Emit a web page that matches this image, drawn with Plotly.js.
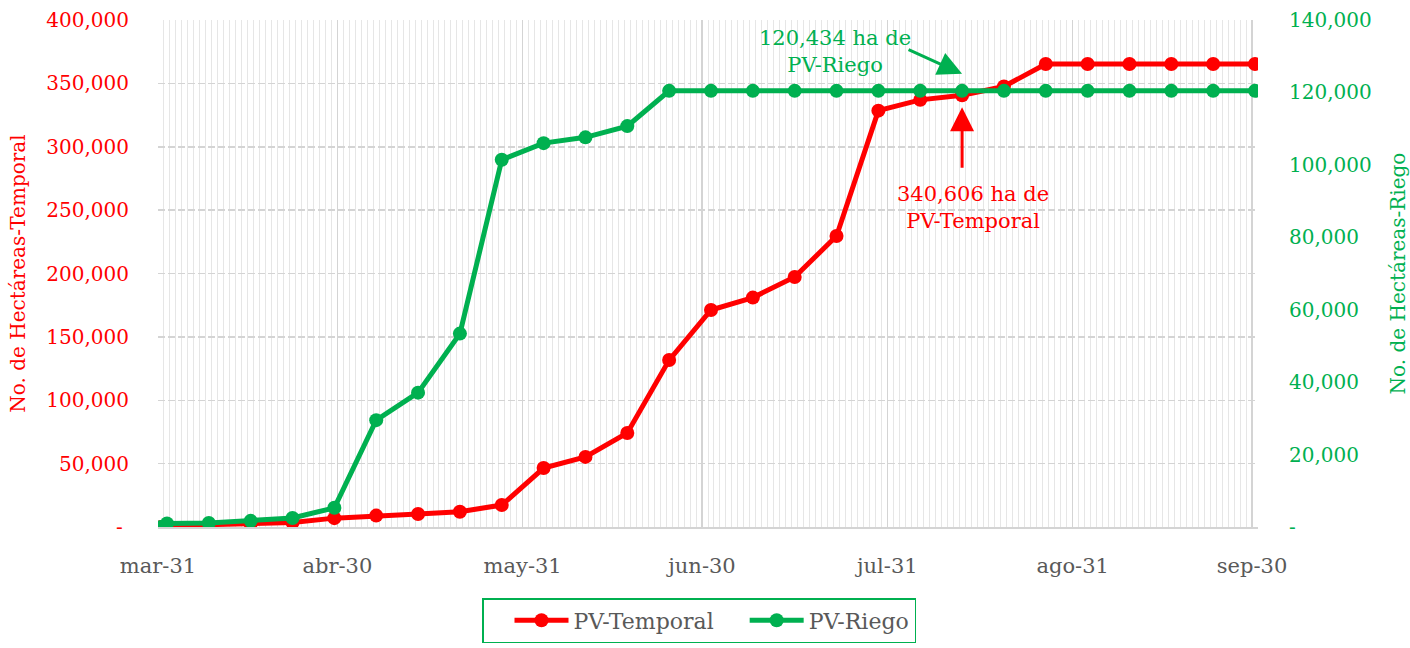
<!DOCTYPE html>
<html>
<head>
<meta charset="utf-8">
<script src="https://cdn.plot.ly/plotly-3.0.1.min.js"></script>
<style>html,body{margin:0;padding:0;background:#fff;}#chart{width:1410px;height:648px;}</style>
</head>
<body>
<div id="chart"></div>
<script>
// Fechas de corte (semanales)
const fechas = ['2021-03-31','2021-04-01','2021-04-08','2021-04-15','2021-04-22','2021-04-29',
  '2021-05-06','2021-05-13','2021-05-20','2021-05-27','2021-06-03','2021-06-10','2021-06-17',
  '2021-06-24','2021-07-01','2021-07-08','2021-07-15','2021-07-22','2021-07-29','2021-08-05',
  '2021-08-12','2021-08-19','2021-08-26','2021-09-02','2021-09-09','2021-09-16','2021-09-23','2021-09-30'];
// PV-Temporal (ha)
const pvTemporal = [0,1500,1800,2500,3500,7000,9000,10300,12000,17300,46500,55300,74200,
  131700,171200,181000,197200,229600,328500,337000,340606,347500,365300,365300,365300,365300,365300,365300];
// PV-Riego (ha)
const pvRiego = [0,1000,1100,1700,2500,5300,29500,37100,53400,101400,106000,107600,110700,
  120434,120434,120434,120434,120434,120434,120434,120434,120434,120434,120434,120434,120434,120434,120434];
// Etiquetas del eje X
const xTickVals = ['2021-03-31','2021-04-30','2021-05-31','2021-06-30','2021-07-31','2021-08-31','2021-09-30'];
const xTickText = ['mar-31','abr-30','may-31','jun-30','jul-31','ago-31','sep-30'];
// Ejes Y
const yLeftTicks = [0,50000,100000,150000,200000,250000,300000,350000,400000];
const yRightTicks = [0,20000,40000,60000,80000,100000,120000,140000];

const fmt = v => v === 0 ? '-\u00a0' : v.toLocaleString('en-US');
const xs = fechas.map(d => d + ' 12:00');

const RED = '#ff0000', GREEN = '#00b050', GRAY = '#595959';
const FONT = 'DejaVu Serif, serif';

const traces = [
  {x: xs, y: pvTemporal, name: 'PV-Temporal', type: 'scatter', mode: 'lines+markers',
   line: {color: RED, width: 5}, marker: {color: RED, size: 14}, yaxis: 'y'},
  {x: xs, y: pvRiego, name: 'PV-Riego', type: 'scatter', mode: 'lines+markers',
   line: {color: GREEN, width: 5}, marker: {color: GREEN, size: 14}, yaxis: 'y2'}
];

const iAnn = fechas.indexOf('2021-08-12');

const layout = {
  width: 1410, height: 648,
  margin: {l: 158, r: 152, t: 20, b: 121},
  paper_bgcolor: '#ffffff', plot_bgcolor: '#ffffff',
  font: {family: FONT, size: 20, color: GRAY},
  showlegend: true,
  xaxis: {
    type: 'date', range: ['2021-03-31', '2021-10-01'],
    tickmode: 'array', tickvals: xTickVals, ticktext: xTickText,
    tickfont: {family: FONT, size: 21, color: GRAY},
    showgrid: true, gridcolor: '#d4d4d4', gridwidth: 1.5,
    minor: {tick0: '2021-03-31', dtick: 86400000, showgrid: true, gridcolor: '#e6e6e6', gridwidth: 1},
    showline: true, linecolor: '#d4d4d4', linewidth: 1.5,
    ticks: '', ticklabelstandoff: 19, zeroline: false, automargin: false
  },
  yaxis: {
    range: [0, 400000], tickmode: 'array', tickvals: yLeftTicks, ticktext: yLeftTicks.map(fmt),
    tickfont: {family: FONT, size: 20, color: RED},
    showgrid: true, gridcolor: '#d4d4d4', griddash: '7px,3px', gridwidth: 1.5,
    zeroline: false, showline: false, ticks: '', ticklabelstandoff: 28,
    title: {text: 'No. de Hectáreas-Temporal', font: {family: FONT, size: 20, color: RED}, standoff: 15},
    automargin: false
  },
  yaxis2: {
    overlaying: 'y', side: 'right', range: [0, 140000],
    tickmode: 'array', tickvals: yRightTicks, ticktext: yRightTicks.map(fmt),
    tickfont: {family: FONT, size: 20, color: GREEN},
    showgrid: false, zeroline: false, showline: false, ticks: '', ticklabelstandoff: 30,
    title: {text: 'No. de Hectáreas-Riego', font: {family: FONT, size: 20, color: GREEN}, standoff: 22},
    automargin: false
  },
  legend: {
    orientation: 'h', xref: 'container', yref: 'container',
    x: 482 / 1410, xanchor: 'left', y: (648 - 598) / 648, yanchor: 'top',
    bordercolor: GREEN, borderwidth: 1.5, bgcolor: '#ffffff',
    font: {family: FONT, size: 22, color: GRAY}, indentation: 26, itemwidth: 54,
    traceorder: 'normal'
  },
  annotations: [
    {x: xs[iAnn], y: pvRiego[iAnn], xref: 'x', yref: 'y2', showarrow: false,
     text: fmt(pvRiego[iAnn]) + ' ha de<br>PV-Riego', xshift: -127, yshift: 39,
     font: {family: FONT, size: 21, color: GREEN}, align: 'center'},
    {x: xs[iAnn], y: pvRiego[iAnn], xref: 'x', yref: 'y2', text: '', showarrow: true,
     arrowhead: 2, arrowsize: 1.6, arrowwidth: 3, arrowcolor: GREEN, ax: -55, ay: -25, yshift: 17},
    {x: xs[iAnn], y: pvTemporal[iAnn], xref: 'x', yref: 'y', showarrow: false,
     text: fmt(pvTemporal[iAnn]) + ' ha de<br>PV-Temporal', xshift: 11, yshift: -112,
     font: {family: FONT, size: 21, color: RED}, align: 'center'},
    {x: xs[iAnn], y: pvTemporal[iAnn], xref: 'x', yref: 'y', text: '', showarrow: true,
     arrowhead: 2, arrowsize: 1.6, arrowwidth: 3, arrowcolor: RED, ax: 0, ay: 62, yshift: -12}
  ]
};

Plotly.newPlot('chart', traces, layout, {displayModeBar: false, staticPlot: true});
</script>
</body>
</html>
